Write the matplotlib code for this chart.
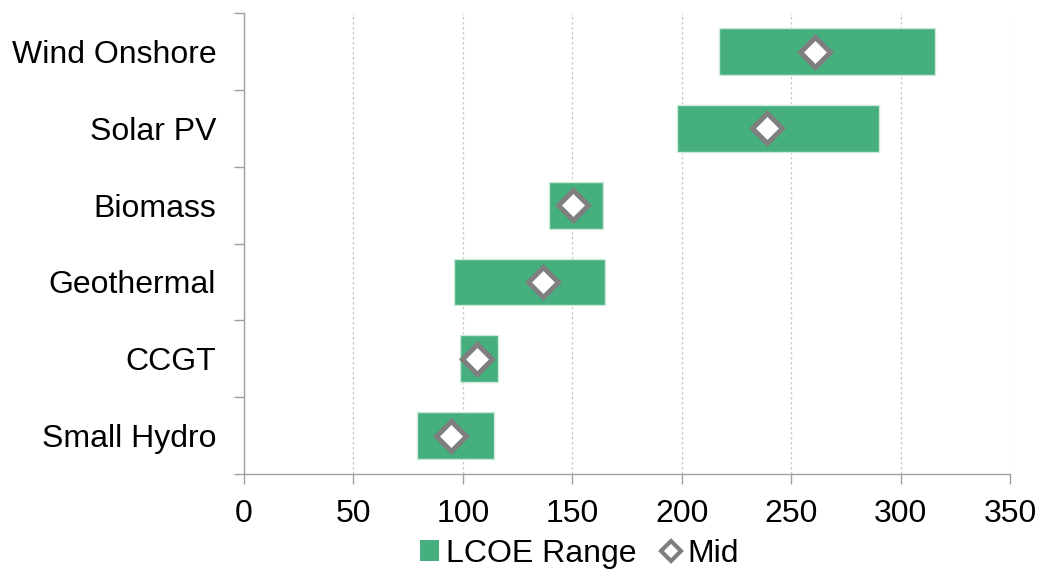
import numpy as np
import matplotlib
matplotlib.use("Agg")
import matplotlib.pyplot as plt
from matplotlib.lines import Line2D
from matplotlib.patches import Patch

plt.rcParams['font.family'] = ['Liberation Sans', 'DejaVu Sans']

# data (top to bottom as in the chart)
techs = ['Wind Onshore', 'Solar PV', 'Biomass', 'Geothermal', 'CCGT', 'Small Hydro']
low = [217, 198, 139.5, 96, 98.6, 79]
high = [315.5, 290, 163.8, 165, 116, 114]
mid = [261, 239, 150.3, 136.6, 106.3, 94.8]
xticks = [0, 50, 100, 150, 200, 250, 300, 350]

green = '#45AF7D'
grey = '#7F7F7F'

fig = plt.figure(figsize=(10.4, 5.71), dpi=100)
ax = fig.add_axes([0.2346, 0.170, 0.7366, 0.807])

y = np.arange(len(techs))[::-1]
width = np.array(high) - np.array(low)
ax.barh(y, width, left=low, height=0.61, color=green,
        edgecolor='#CDEBDB', linewidth=1, zorder=2)
ax.plot(mid, y, linestyle='none', marker='D', markersize=15.5,
        markerfacecolor='white', markeredgecolor=grey, markeredgewidth=3.6,
        zorder=3)

ax.set_xlim(0, 350)
ax.set_ylim(-0.5, len(techs) - 0.5)
ax.set_xticks(xticks)
ax.tick_params(axis='x', labelsize=23, colors='#A0A0A0', labelcolor='black',
               length=7, width=1, pad=11)

# category boundaries get the tick marks, labels sit in between
ax.set_yticks(np.arange(-0.5, len(techs), 1.0))
ax.set_yticklabels([])
ax.set_yticks(y, minor=True)
ax.set_yticklabels(techs, minor=True)
ax.tick_params(axis='y', which='major', colors='#A0A0A0', length=7, width=1)
ax.tick_params(axis='y', which='minor', length=0, labelsize=23, pad=20)

for s in ['top', 'right']:
    ax.spines[s].set_visible(False)
for s in ['left', 'bottom']:
    ax.spines[s].set_color('#A0A0A0')
    ax.spines[s].set_linewidth(1)

ax.grid(axis='x', color='#C8C8C8', linestyle=(0, (2, 2)), linewidth=0.9, zorder=0)
ax.set_axisbelow(True)

handles = [Patch(facecolor=green, edgecolor='none'),
           Line2D([], [], linestyle='none', marker='D', markersize=10,
                  markerfacecolor='white', markeredgecolor=grey, markeredgewidth=3)]
fig.legend(handles, ['LCOE Range', 'Mid'], loc='center', ncol=2,
           bbox_to_anchor=(0.557, 0.03), frameon=False, fontsize=23,
           handlelength=0.6, handleheight=0.6, handletextpad=0.2,
           columnspacing=0.8, borderpad=0)

fig.savefig('out.png', dpi=100)
